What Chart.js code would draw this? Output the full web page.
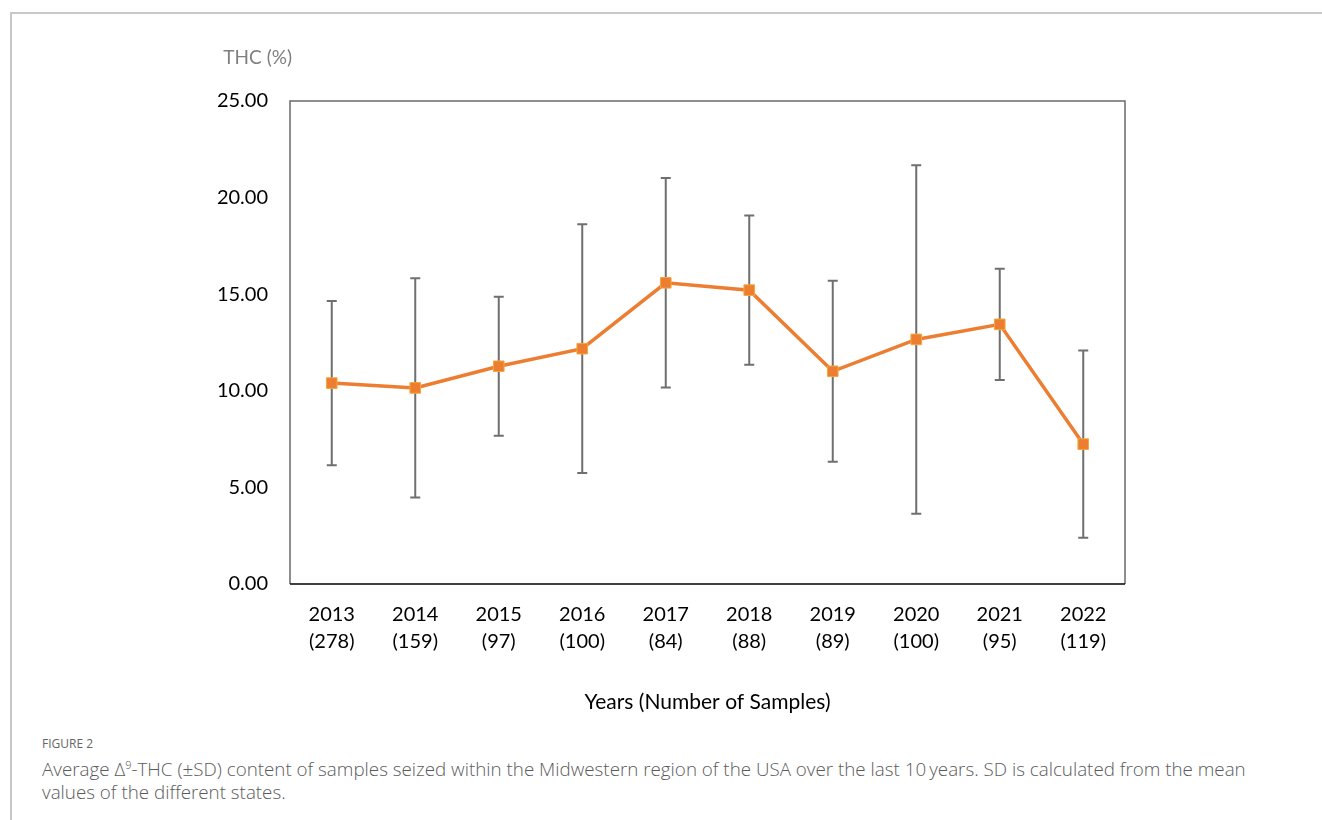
<!DOCTYPE html>
<html lang="en">
<head>
    <meta charset="UTF-8">
    <title>Average THC content, Midwest</title>
    <script src="https://cdn.jsdelivr.net/npm/chart.js"></script>
    <style>
        body { margin: 0; background: #fff; }
        #frame {
            position: absolute; left: 10px; top: 12px; width: 1320px; height: 820px;
            border-top: 2px solid #c8c8c8; border-left: 2px solid #c8c8c8;
        }
        #chartBox { position: absolute; left: 0; top: 0; width: 1322px; height: 730px; }
        #caption {
            position: absolute; left: 42px; top: 735px; width: 1280px;
            font-family: "Open Sans", sans-serif; color: #5b5b5b; white-space: nowrap;
        }
        #caption .fig { font-size: 12px; color: #666; margin-bottom: 1px; }
        #caption .txt { font-size: 18.8px; line-height: 23px; font-weight: 300; }
    </style>
</head>
<body>
    <div id="frame"></div>
    <div id="chartBox">
        <canvas id="myChart" width="1322" height="730"></canvas>
    </div>
    <div id="caption">
        <div class="fig">FIGURE 2</div>
        <div class="txt">Average Δ<sup style="font-size:11px">9</sup>-THC (±SD) content of samples seized within the Midwestern region of the USA over the last 10&#8201;years. SD is calculated from the mean<br>values of the different states.</div>
    </div>
    <script>
        const years = ['2013', '2014', '2015', '2016', '2017', '2018', '2019', '2020', '2021', '2022'];
        const sampleCounts = [278, 159, 97, 100, 84, 88, 89, 100, 95, 119];
        const thcMean = [10.40, 10.15, 11.27, 12.18, 15.59, 15.21, 11.01, 12.66, 13.44, 7.24];
        const thcSD = [4.25, 5.67, 3.60, 6.44, 5.42, 3.86, 4.68, 9.02, 2.88, 4.85];

        const labels = years.map((y, i) => [y, '(' + sampleCounts[i] + ')']);
        const tickFont = { family: 'Lato', size: 20, lineHeight: 1.35 };

        // error bars drawn under the line
        const errorBars = {
            id: 'errorBars',
            beforeDatasetsDraw(chart) {
                const ctx = chart.ctx;
                const xs = chart.scales.x, ys = chart.scales.y;
                ctx.save();
                ctx.strokeStyle = '#6f6f6f';
                ctx.lineWidth = 2;
                thcMean.forEach((m, i) => {
                    const x = xs.getPixelForValue(i);
                    const top = ys.getPixelForValue(m + thcSD[i]);
                    const bot = ys.getPixelForValue(m - thcSD[i]);
                    ctx.beginPath();
                    ctx.moveTo(x, top); ctx.lineTo(x, bot);
                    ctx.moveTo(x - 5, top); ctx.lineTo(x + 5, top);
                    ctx.moveTo(x - 5, bot); ctx.lineTo(x + 5, bot);
                    ctx.stroke();
                });
                ctx.restore();
            }
        };

        // plot frame and the y title sitting above the axis
        const frameAndTitle = {
            id: 'frameAndTitle',
            afterDraw(chart) {
                const ctx = chart.ctx;
                const a = chart.chartArea;
                ctx.save();
                ctx.lineWidth = 1.5;
                ctx.strokeStyle = '#6a6a6a';
                ctx.beginPath();
                ctx.moveTo(a.left, a.bottom); ctx.lineTo(a.left, a.top);
                ctx.lineTo(a.right, a.top); ctx.lineTo(a.right, a.bottom);
                ctx.stroke();
                ctx.strokeStyle = '#000';
                ctx.beginPath();
                ctx.moveTo(a.left, a.bottom); ctx.lineTo(a.right, a.bottom);
                ctx.stroke();

                ctx.fillStyle = '#7f7f7f';
                ctx.font = '19px Lato';
                ctx.textAlign = 'right';
                ctx.textBaseline = 'middle';
                ctx.fillText('THC (%)', a.left + 2, 58);
                ctx.restore();
            }
        };

        const ctx = document.getElementById('myChart').getContext('2d');
        new Chart(ctx, {
            type: 'line',
            data: {
                labels: labels,
                datasets: [{
                    data: thcMean,
                    borderColor: '#ed7d31',
                    borderWidth: 3.5,
                    backgroundColor: '#ed7d31',
                    pointStyle: 'rect',
                    pointRadius: 7.5,
                    pointBorderColor: '#f3a83b',
                    pointBorderWidth: 1,
                    tension: 0
                }]
            },
            options: {
                responsive: false,
                animation: false,
                devicePixelRatio: 1,
                layout: { padding: { left: 0, right: 197, top: 101, bottom: 0 } },
                plugins: {
                    legend: { display: false },
                    tooltip: { enabled: false }
                },
                scales: {
                    x: {
                        offset: true,
                        grid: { display: false, drawTicks: false },
                        border: { display: false },
                        ticks: { color: '#000', font: tickFont, padding: 17, maxRotation: 0 },
                        title: {
                            display: true,
                            text: 'Years (Number of Samples)',
                            color: '#000',
                            font: { family: 'Lato', size: 21 },
                            padding: { top: 0, bottom: 15 }
                        },
                        afterFit(scale) { scale.height = 146; }
                    },
                    y: {
                        min: 0,
                        max: 25,
                        grid: { display: false, drawTicks: false },
                        border: { display: false },
                        ticks: {
                            stepSize: 5,
                            color: '#000',
                            font: tickFont,
                            padding: 22,
                            callback: v => v.toFixed(2)
                        },
                        afterFit(scale) { scale.width = 290; }
                    }
                }
            },
            plugins: [errorBars, frameAndTitle]
        });
    </script>
</body>
</html>
